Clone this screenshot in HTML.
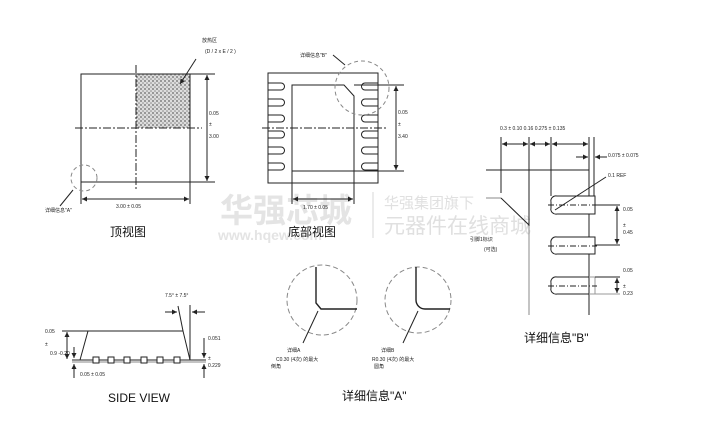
<!DOCTYPE html>
<html><head><meta charset="utf-8"><style>
html,body{margin:0;padding:0;background:#fff;width:727px;height:430px;overflow:hidden}
svg{display:block}
text{font-family:"Liberation Sans","Noto Sans CJK SC",sans-serif}
.s{font-size:5px;fill:#222}
.l{font-size:12px;fill:#111}
</style></head><body>
<svg width="727" height="430" viewBox="0 0 727 430" xmlns="http://www.w3.org/2000/svg">
<defs>
<pattern id="dots" width="4" height="4" patternUnits="userSpaceOnUse">
<rect width="4" height="4" fill="#ddd"/><circle cx="1" cy="1" r="0.9" fill="#666"/><circle cx="3" cy="3" r="0.8" fill="#888"/>
</pattern>
<marker id="a" viewBox="0 0 6 6" refX="6" refY="3" markerWidth="5" markerHeight="5" orient="auto-start-reverse"><path d="M0,0L6,3L0,6z" fill="#222"/></marker>
</defs>
<!-- watermark -->
<g fill="#e4e4e4">
<text x="220" y="222" style="font-size:33px;font-weight:bold" fill="#e4e4e4">华强芯城</text>
<text x="218" y="240" style="font-size:14px;font-weight:bold" fill="#e4e4e4">www.hqew.com</text>
<text x="384" y="208" style="font-size:15px" fill="#e0e0e0">华强集团旗下</text>
<text x="384" y="233" style="font-size:21px" fill="#e0e0e0">元器件在线商城</text>
</g>
<line x1="373" y1="192" x2="373" y2="238" stroke="#e4e4e4" stroke-width="1.5"/>

<g stroke="#222" stroke-width="1" fill="none">
<!-- top view -->
<rect x="136" y="74" width="54" height="54" fill="url(#dots)" stroke="none"/>
<rect x="81" y="74" width="109" height="108"/>
<line x1="136" y1="65" x2="136" y2="190" stroke-dasharray="8,2,2,2"/>
<line x1="75" y1="128" x2="202" y2="128" stroke-dasharray="8,2,2,2"/>
<line x1="190" y1="74" x2="215" y2="74"/><line x1="190" y1="182" x2="215" y2="182"/>
<line x1="207" y1="75" x2="207" y2="181" marker-start="url(#a)" marker-end="url(#a)"/>
<line x1="81" y1="182" x2="81" y2="204"/><line x1="190" y1="182" x2="190" y2="204"/>
<line x1="82" y1="199" x2="189" y2="199" marker-start="url(#a)" marker-end="url(#a)"/>
<circle cx="84" cy="178" r="13" stroke="#888" stroke-dasharray="4,3"/>
<line x1="73" y1="190" x2="60" y2="206"/>
<line x1="196" y1="59" x2="180" y2="84" marker-end="url(#a)"/>

<!-- bottom view -->
<rect x="268" y="73" width="110" height="110"/>
<path d="M292,85 H344 L354,96 V171 H292 Z"/>
<g>
<path d="M268,83h13a2,2 0 0 1 0,7h-13"/><path d="M268,99h13a2,2 0 0 1 0,7h-13"/><path d="M268,115h13a2,2 0 0 1 0,7h-13"/>
<path d="M268,131h13a2,2 0 0 1 0,7h-13"/><path d="M268,147h13a2,2 0 0 1 0,7h-13"/><path d="M268,163h13a2,2 0 0 1 0,7h-13"/>
<path d="M378,83h-13a2,2 0 0 0 0,7h13"/><path d="M378,99h-13a2,2 0 0 0 0,7h13"/><path d="M378,115h-13a2,2 0 0 0 0,7h13"/>
<path d="M378,131h-13a2,2 0 0 0 0,7h13"/><path d="M378,147h-13a2,2 0 0 0 0,7h13"/><path d="M378,163h-13a2,2 0 0 0 0,7h13"/>
</g>
<line x1="262" y1="128" x2="388" y2="128" stroke-dasharray="8,2,2,2"/>
<line x1="354" y1="85" x2="404" y2="85"/><line x1="354" y1="171" x2="404" y2="171"/>
<line x1="396" y1="86" x2="396" y2="170" marker-start="url(#a)" marker-end="url(#a)"/>
<line x1="292" y1="171" x2="292" y2="204"/><line x1="354" y1="171" x2="354" y2="204"/>
<line x1="293" y1="199" x2="353" y2="199" marker-start="url(#a)" marker-end="url(#a)"/>
<circle cx="362" cy="88" r="27" stroke="#888" stroke-dasharray="4,3"/>
<line x1="333" y1="55" x2="345" y2="65"/>

<!-- detail B -->
<line x1="501" y1="137" x2="501" y2="193"/>
<line x1="529" y1="137" x2="529" y2="226"/><line x1="529" y1="226" x2="529" y2="315" stroke="#888"/>
<line x1="551" y1="137" x2="551" y2="196"/>
<line x1="589" y1="137" x2="589" y2="315"/>
<line x1="594" y1="137" x2="594" y2="196"/>
<line x1="486" y1="170" x2="589" y2="170"/>
<line x1="502" y1="144" x2="528" y2="144" marker-start="url(#a)" marker-end="url(#a)"/>
<line x1="530" y1="144" x2="550" y2="144" marker-start="url(#a)" marker-end="url(#a)"/>
<line x1="552" y1="144" x2="588" y2="144" marker-start="url(#a)" marker-end="url(#a)"/>
<line x1="576" y1="157" x2="588" y2="157" marker-end="url(#a)"/>
<line x1="607" y1="157" x2="595" y2="157" marker-end="url(#a)"/>
<line x1="486" y1="198" x2="501" y2="198" stroke="#888"/>
<line x1="501" y1="198" x2="529" y2="225"/>
<path d="M557,196H595V214H557A5,5 0 0 1 551,208V202A5,5 0 0 1 557,196Z" fill="#fff"/>
<path d="M557,237H595V254H557A5,5 0 0 1 551,248V243A5,5 0 0 1 557,237Z" fill="#fff"/>
<path d="M557,277H589V294H557A5,5 0 0 1 551,288V283A5,5 0 0 1 557,277Z" fill="#fff"/>
<path d="M589,277H595V294H589" stroke="#999"/>
<line x1="548" y1="205" x2="597" y2="205" stroke-dasharray="6,2,1,2"/>
<line x1="548" y1="246" x2="597" y2="246" stroke-dasharray="6,2,1,2"/>
<line x1="548" y1="286" x2="597" y2="286" stroke-dasharray="6,2,1,2"/>
<line x1="595" y1="205" x2="620" y2="205"/><line x1="595" y1="245" x2="620" y2="245"/>
<line x1="617" y1="206" x2="617" y2="244" marker-start="url(#a)" marker-end="url(#a)"/>
<line x1="595" y1="277" x2="620" y2="277"/><line x1="595" y1="294" x2="620" y2="294" stroke="#999"/>
<line x1="617" y1="278" x2="617" y2="293" marker-start="url(#a)" marker-end="url(#a)"/>
<line x1="606" y1="177" x2="555" y2="210"/>

<!-- side view -->
<path d="M80,360 L88,331 H183 L190,360"/>
<line x1="72" y1="360" x2="206" y2="360"/>
<line x1="72" y1="362" x2="206" y2="362" stroke="#888"/>
<g fill="#fff"><rect x="93" y="357" width="6" height="6"/><rect x="108" y="357" width="6" height="6"/><rect x="124" y="357" width="6" height="6"/><rect x="141" y="357" width="6" height="6"/><rect x="157" y="357" width="6" height="6"/><rect x="174" y="357" width="6" height="6"/></g>
<line x1="62" y1="331" x2="88" y2="331"/>
<line x1="67" y1="332" x2="67" y2="359" marker-start="url(#a)" marker-end="url(#a)"/>
<line x1="74" y1="347" x2="74" y2="358" marker-end="url(#a)"/>
<line x1="74" y1="378" x2="74" y2="364" marker-end="url(#a)"/>
<line x1="190" y1="305" x2="190" y2="360"/>
<line x1="183" y1="331" x2="178" y2="306"/>
<line x1="165" y1="312" x2="177" y2="312" marker-end="url(#a)"/>
<line x1="205" y1="312" x2="192" y2="312" marker-end="url(#a)"/>
<line x1="204" y1="338" x2="204" y2="358" marker-end="url(#a)"/>
<line x1="204" y1="378" x2="204" y2="364" marker-end="url(#a)"/>

<!-- detail A -->
<circle cx="322" cy="300" r="35" stroke="#888" stroke-dasharray="5,3"/>
<path d="M316,267V303L321,309H357" stroke-width="1.4"/>
<line x1="318" y1="311" x2="303" y2="343"/>
<circle cx="418" cy="300" r="33" stroke="#888" stroke-dasharray="5,3"/>
<path d="M416,267V300A9,9 0 0 0 425,309H450" stroke-width="1.4"/>
<line x1="418" y1="311" x2="403" y2="343"/>
</g>

<!-- small text -->
<text class="s" x="202" y="42">放热区</text>
<text class="s" x="205" y="53">(D / 2 x E / 2 )</text>
<text class="s" x="209" y="115">0.05</text>
<text class="s" x="209" y="126">±</text>
<text class="s" x="209" y="138">3.00</text>
<text class="s" x="116" y="208">3.00 ± 0.05</text>
<text class="s" x="45" y="212">详细信息"A"</text>
<text class="s" x="300" y="57">详细信息"B"</text>
<text class="s" x="398" y="114">0.05</text>
<text class="s" x="398" y="126">±</text>
<text class="s" x="398" y="138">3.40</text>
<text class="s" x="303" y="209">1.70 ± 0.05</text>
<text class="s" x="500" y="130">0.3 ± 0.10 0.16 0.275 ± 0.135</text>
<text class="s" x="608" y="157">0.075 ± 0.075</text>
<text class="s" x="608" y="177">0.1 REF</text>
<text class="s" x="623" y="211">0.05</text>
<text class="s" x="623" y="227">±</text>
<text class="s" x="623" y="234">0.45</text>
<text class="s" x="623" y="272">0.05</text>
<text class="s" x="623" y="288">±</text>
<text class="s" x="623" y="295">0.23</text>
<text class="s" x="470" y="241">引脚1标识</text>
<text class="s" x="484" y="251">(可选)</text>
<text class="s" x="165" y="297">7.5° ± 7.5°</text>
<text class="s" x="45" y="333">0.05</text>
<text class="s" x="45" y="346">±</text>
<text class="s" x="50" y="355">0.9 -0.20</text>
<text class="s" x="80" y="376">0.05 ± 0.05</text>
<text class="s" x="208" y="340">0.051</text>
<text class="s" x="208" y="360">±</text>
<text class="s" x="208" y="367">0.229</text>
<text class="s" x="287" y="352">详细A</text>
<text class="s" x="276" y="361">C0.30 (4次) 的最大</text>
<text class="s" x="271" y="368">倒角</text>
<text class="s" x="381" y="352">详细B</text>
<text class="s" x="372" y="361">R0.30 (4次) 的最大</text>
<text class="s" x="374" y="368">圆角</text>

<text class="l" x="110" y="236">顶视图</text>
<text class="l" x="288" y="236">底部视图</text>
<text class="l" x="108" y="402">SIDE VIEW</text>
<text class="l" x="342" y="400">详细信息"A"</text>
<text class="l" x="524" y="342">详细信息"B"</text>
</svg>
</body></html>
